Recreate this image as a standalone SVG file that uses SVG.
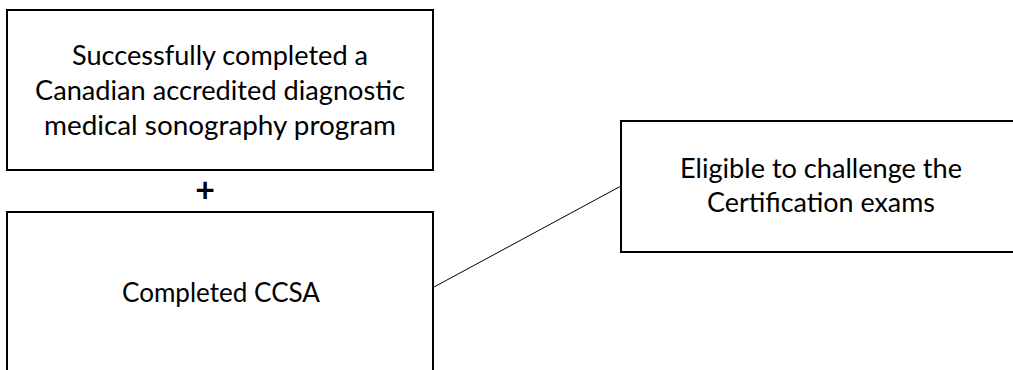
<svg xmlns="http://www.w3.org/2000/svg" width="1013" height="370" viewBox="0 0 1013 370">
<style>
.box{fill:#fff;stroke:#000;stroke-width:2}
.t{font-family:"Lato","Open Sans","Liberation Sans",sans-serif;font-size:26px;fill:#000;text-anchor:middle}
.conn{stroke:#000;stroke-width:1;fill:none}
</style>
<rect width="1013" height="370" fill="#fff"/>
<g id="connectors">
<line class="conn" x1="434" y1="287" x2="621" y2="186"/>
</g>
<g id="node-program">
<rect class="box" x="7" y="10" width="426" height="160"/>
<text class="t" x="220" y="65" textLength="296" lengthAdjust="spacingAndGlyphs">Successfully completed a</text>
<text class="t" x="220" y="100" textLength="370" lengthAdjust="spacingAndGlyphs">Canadian accredited diagnostic</text>
<text class="t" x="220" y="135" textLength="352" lengthAdjust="spacingAndGlyphs">medical sonography program</text>
</g>
<g id="plus">
<text class="t" x="205" y="202" style="font-size:34px;font-weight:bold">+</text>
</g>
<g id="node-ccsa">
<rect class="box" x="7" y="212" width="426" height="200"/>
<text class="t" x="221" y="302" textLength="198" lengthAdjust="spacingAndGlyphs">Completed CCSA</text>
</g>
<g id="node-eligible">
<rect class="box" x="621" y="121" width="400" height="131"/>
<text class="t" x="821" y="178" textLength="282" lengthAdjust="spacingAndGlyphs">Eligible to challenge the</text>
<text class="t" x="821" y="212" textLength="228" lengthAdjust="spacingAndGlyphs">Certification exams</text>
</g>
</svg>
